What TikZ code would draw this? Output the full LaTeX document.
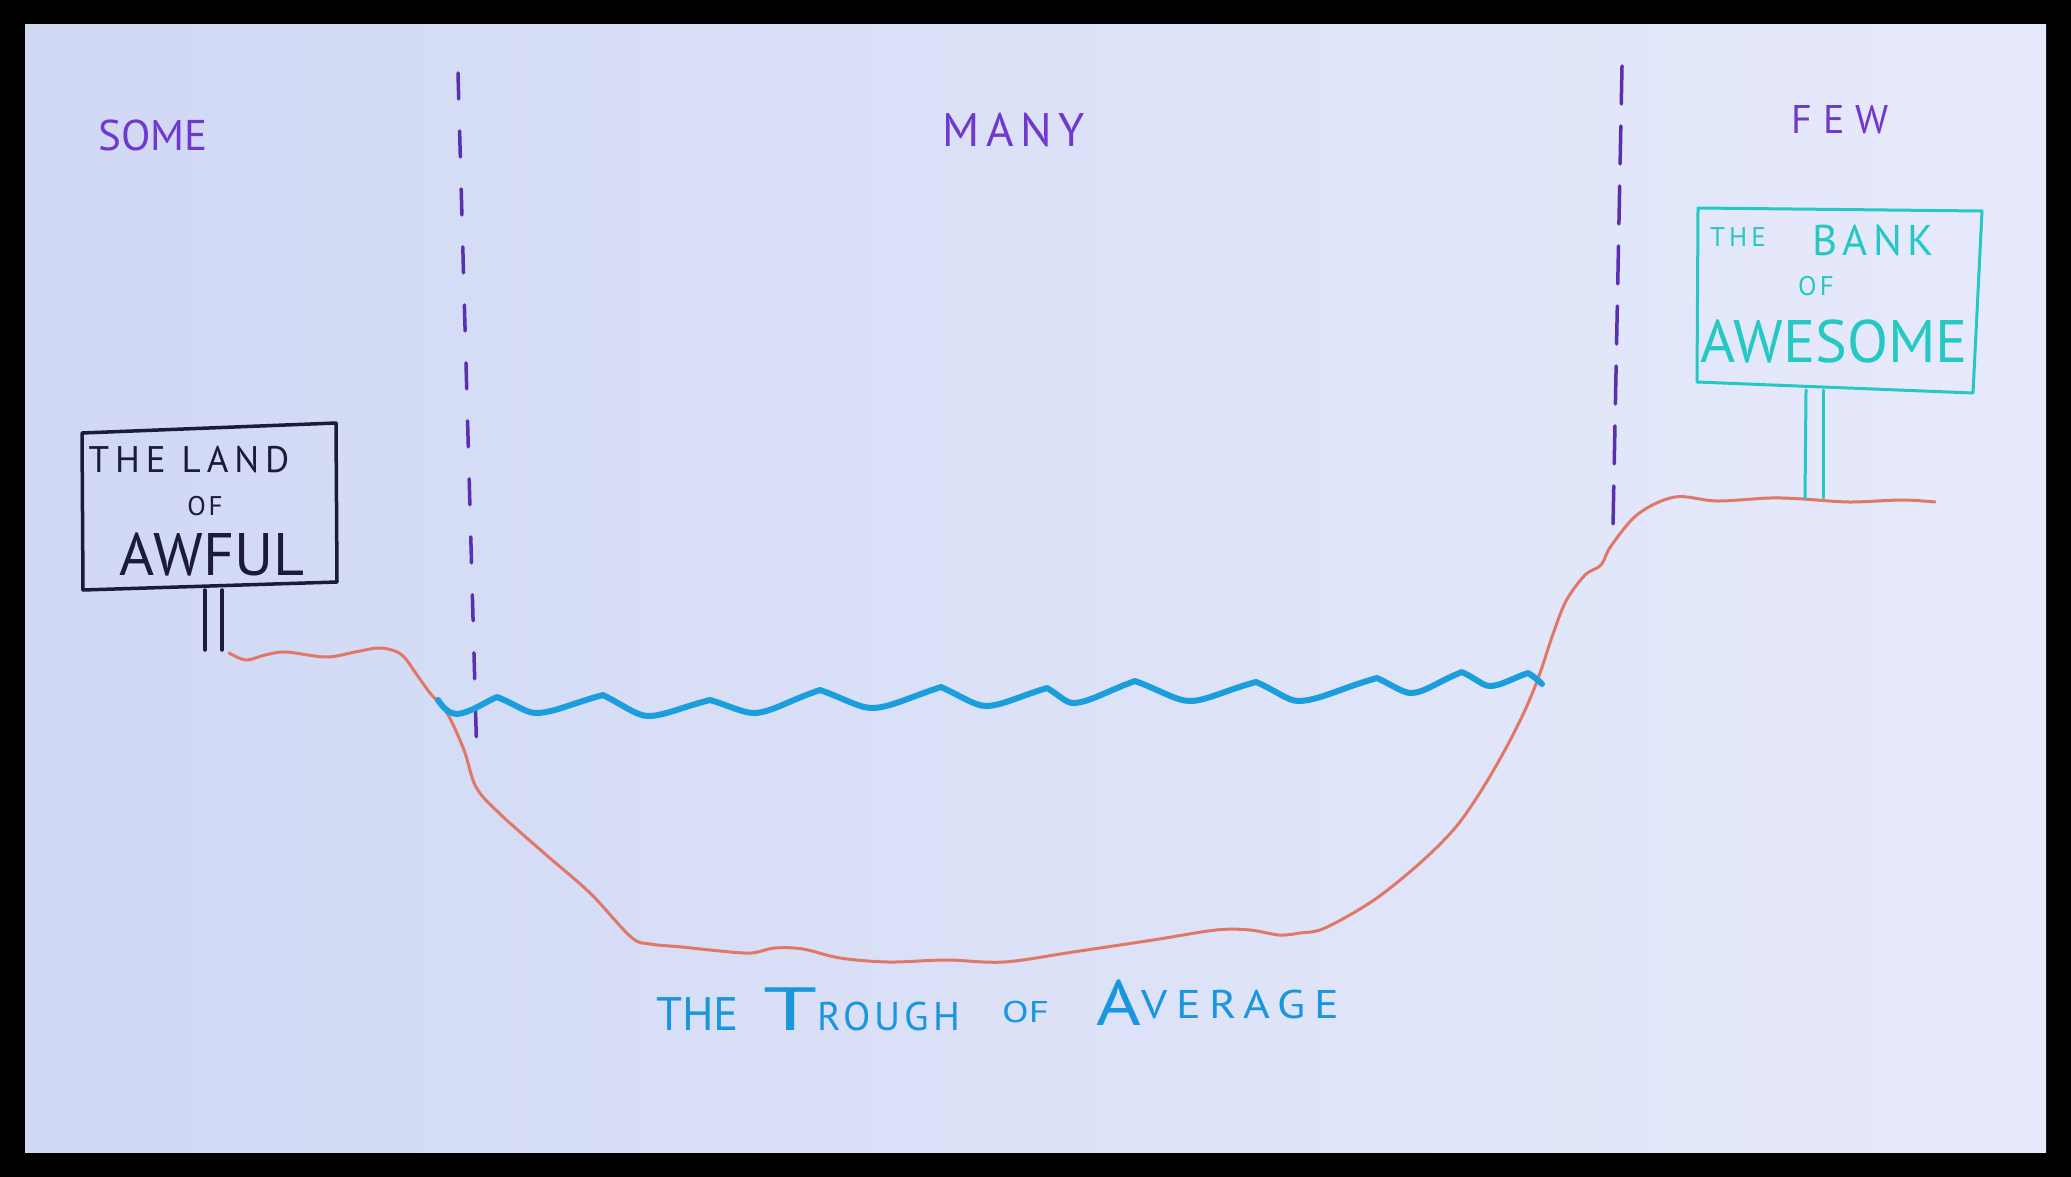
\documentclass[tikz,border=0pt]{standalone}
\usepackage{fontspec}
\usepackage{graphicx}
\setmainfont{PT Sans}
\definecolor{bgL}{HTML}{D0D8F4}
\definecolor{bgR}{HTML}{E7EAFB}
\definecolor{purp}{HTML}{7038CC}
\definecolor{dashc}{HTML}{5A2FB0}
\definecolor{navy}{HTML}{1C1C3A}
\definecolor{teal}{HTML}{26C8C4}
\definecolor{ground}{HTML}{E07868}
\definecolor{water}{HTML}{1A9EDC}
\definecolor{troughc}{HTML}{1A96DC}
\newcommand\myfs[1]{\fontsize{#1}{#1}\selectfont}
\newcommand\wide[2]{\scalebox{#1}[1]{#2}}
\tikzset{
  lbl/.style={inner sep=0pt, anchor=center},
  divider/.style={dashc, line width=3.5pt, line cap=round},
  signL/.style={navy, line width=3.5pt, line join=round, line cap=round},
  signR/.style={teal, line width=3pt, line join=round, line cap=round},
  groundline/.style={ground, line width=3pt, line cap=round, line join=round},
  waterline/.style={water, line width=6pt, line cap=round, line join=round},
}
\begin{document}
\begin{tikzpicture}[x=1pt, y=-1pt]
\useasboundingbox (0,0) rectangle (2071,1177);
\fill[black] (0,0) rectangle (2071,1177);
\shade[left color=bgL, right color=bgR] (25,25) rectangle (2046,1152);

% column labels
\node[lbl, text=purp] (some) at (153,135) {\myfs{43}SOME};
\node[lbl, text=purp] (many) at (1014,130) {\myfs{47}\addfontfeature{LetterSpace=14}MANY};
\node[lbl, text=purp] (few) at (1840,120) {\myfs{40}\addfontfeature{LetterSpace=28}FEW};

% dividers
\draw[divider, dash pattern=on 26pt off 32pt] (458,73) -- (477,763);
\draw[divider, dash pattern=on 38pt off 22pt] (1622,66) -- (1613,526);

% ground
\draw[groundline] plot[smooth, tension=0.55] coordinates {
 (229,653) (246,660) (265,655) (286,652) (326,657) (355,652) (378,648)
 (395,651) (405,658) (415,672) (430,693) (447,713) (464,750) (476,787)
 (499,813) (544,853) (590,893) (631,937) (650,944) (682,947) (720,951)
 (751,953) (775,948) (803,949) (840,958) (889,962) (946,960) (1004,962)
 (1073,952) (1153,940) (1216,930) (1250,930) (1279,935) (1300,933)
 (1325,928) (1374,900) (1420,863) (1455,828) (1481,791) (1506,748)
 (1526,708) (1540,673) (1553,634) (1566,601) (1585,575) (1601,565)
 (1611,546) (1638,514) (1675,497)
 (1717,501) (1770,498) (1803,499) (1849,502) (1902,500) (1935,502)};

% water
\draw[waterline] (438,700) .. controls (444,709) and (450,714) .. (457,714)
  .. controls (470,713) and (485,702) .. (497,697)
  .. controls (515,704) and (526,713) .. (536,713) .. controls (553,713) and (573,703) .. (603,695)
  .. controls (623,705) and (637,716) .. (648,716) .. controls (664,716) and (682,707) .. (710,700)
  .. controls (730,706) and (743,713) .. (754,713) .. controls (770,713) and (790,700) .. (820,690)
  .. controls (843,698) and (859,708) .. (872,708) .. controls (889,708) and (910,697) .. (941,687)
  .. controls (961,696) and (975,706) .. (986,706) .. controls (1001,706) and (1020,696) .. (1047,688)
  .. controls (1059,695) and (1066,703) .. (1073,703) .. controls (1088,703) and (1107,691) .. (1135,681)
  .. controls (1160,690) and (1176,701) .. (1190,701) .. controls (1206,701) and (1226,690) .. (1256,682)
  .. controls (1275,690) and (1288,701) .. (1298,701) .. controls (1318,701) and (1341,688) .. (1377,678)
  .. controls (1392,685) and (1403,693) .. (1411,693) .. controls (1424,693) and (1439,681) .. (1462,672)
  .. controls (1475,678) and (1483,686) .. (1490,686) .. controls (1500,686) and (1511,679) .. (1528,673)
  .. controls (1533,676) and (1538,680) .. (1542,684);

% left sign
\draw[signL] (82,433) -- (336,423) -- (337,582) -- (83,590) -- cycle;
\draw[signL] (205,590) -- (205,650);
\draw[signL] (222,590) -- (222,650);
\node[lbl, text=navy] (land) at (189,460) {\myfs{37}\addfontfeature{LetterSpace=16}THE LAND};
\node[lbl, text=navy] (ofL) at (205,506) {\myfs{27}\addfontfeature{LetterSpace=10}OF};
\node[lbl, text=navy] (awful) at (212,554) {\myfs{60}AWFUL};

% right sign
\draw[signR] (1698,208) -- (1982,211) -- (1973,393) -- (1697,382) -- cycle;
\draw[signR] (1806,390) -- (1805,498);
\draw[signR] (1823,390) -- (1823,498);
\node[lbl, text=teal] (theR) at (1738,237) {\myfs{27}\addfontfeature{LetterSpace=15}THE};
\node[lbl, text=teal] (bank) at (1873,240) {\myfs{43}\addfontfeature{LetterSpace=12}BANK};
\node[lbl, text=teal] (ofR) at (1816,286) {\myfs{27}\addfontfeature{LetterSpace=12}OF};
\node[lbl, text=teal] (awesome) at (1834,341) {\myfs{60}AWESOME};

% trough label
\node[inner sep=0pt, anchor=base west, text=troughc] (trough) at (656,1030)
 {\myfs{47}THE\hspace{24pt}{\myfs{61}\wide{1.6}{T}}{\myfs{40}\addfontfeature{LetterSpace=10}ROUGH}\hspace{42pt}\raisebox{8pt}{\myfs{30}\wide{1.3}{OF}}\hspace{48pt}\raisebox{5pt}{\myfs{64}\wide{1.2}{A}}\raisebox{12pt}{\myfs{40}\addfontfeature{LetterSpace=18}\wide{1.15}{VERAGE}}};
\end{tikzpicture}
\end{document}
